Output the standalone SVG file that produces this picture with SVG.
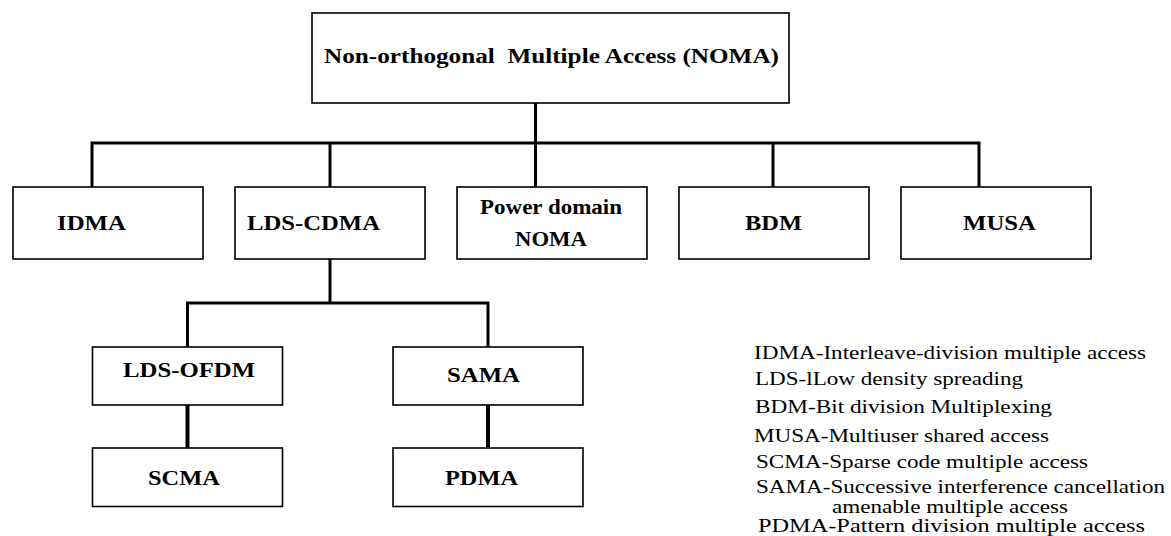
<svg xmlns="http://www.w3.org/2000/svg" width="1171" height="536" viewBox="0 0 1171 536">
<style>
.box{fill:#fff;stroke:#000;stroke-width:1.6}
.lbl{font-family:"Liberation Serif","Times New Roman",serif;font-weight:bold;font-size:22px;fill:#000}
.title{font-family:"Liberation Serif","Times New Roman",serif;font-weight:bold;font-size:21px;fill:#000;white-space:pre}
.leg{font-family:"Liberation Serif","Times New Roman",serif;font-size:18px;fill:#000}
.con{stroke:#000;stroke-width:3;fill:none;stroke-linejoin:miter}
.conb{stroke:#000;stroke-width:4;fill:none}
</style>
<rect width="1171" height="536" fill="#fff"/>
<g id="connectors">
<line class="con" x1="535.5" y1="103" x2="535.5" y2="187"/>
<polyline class="con" points="92,187 92,143 979,143 979,187"/>
<line class="con" x1="330" y1="143" x2="330" y2="187"/>
<line class="con" x1="773" y1="143" x2="773" y2="187"/>
<line class="con" x1="330" y1="259" x2="330" y2="303"/>
<polyline class="con" points="187.5,347 187.5,303 488,303 488,347"/>
<line class="conb" x1="187.5" y1="405" x2="187.5" y2="448"/>
<line class="conb" x1="488" y1="405" x2="488" y2="448"/>
</g>
<g id="noma">
<rect class="box" x="312" y="13" width="477" height="90"/>
<text class="title" x="324" y="63" textLength="455" lengthAdjust="spacingAndGlyphs" xml:space="preserve">Non-orthogonal  Multiple Access (NOMA)</text>
</g>
<g id="idma">
<rect class="box" x="13" y="187" width="190" height="72"/>
<text class="lbl" x="57" y="230" textLength="69" lengthAdjust="spacingAndGlyphs">IDMA</text>
</g>
<g id="lds-cdma">
<rect class="box" x="235" y="187" width="190" height="72"/>
<text class="lbl" x="247" y="230" textLength="133" lengthAdjust="spacingAndGlyphs">LDS-CDMA</text>
</g>
<g id="power-domain">
<rect class="box" x="457" y="187" width="190" height="72"/>
<text class="lbl" x="480" y="214" textLength="142" lengthAdjust="spacingAndGlyphs">Power domain</text>
<text class="lbl" x="515" y="246" textLength="72" lengthAdjust="spacingAndGlyphs">NOMA</text>
</g>
<g id="bdm">
<rect class="box" x="679" y="187" width="190" height="72"/>
<text class="lbl" x="745" y="230" textLength="57" lengthAdjust="spacingAndGlyphs">BDM</text>
</g>
<g id="musa">
<rect class="box" x="901" y="187" width="190" height="72"/>
<text class="lbl" x="963" y="230" textLength="73" lengthAdjust="spacingAndGlyphs">MUSA</text>
</g>
<g id="lds-ofdm">
<rect class="box" x="92.5" y="347" width="190" height="58"/>
<text class="lbl" x="123" y="377" textLength="132" lengthAdjust="spacingAndGlyphs">LDS-OFDM</text>
</g>
<g id="sama">
<rect class="box" x="393" y="347" width="190" height="58"/>
<text class="lbl" x="447" y="382" textLength="73" lengthAdjust="spacingAndGlyphs">SAMA</text>
</g>
<g id="scma">
<rect class="box" x="92.5" y="448" width="190" height="58.5"/>
<text class="lbl" x="148" y="485" textLength="72" lengthAdjust="spacingAndGlyphs">SCMA</text>
</g>
<g id="pdma">
<rect class="box" x="393" y="448" width="190" height="58.5"/>
<text class="lbl" x="445" y="485" textLength="73" lengthAdjust="spacingAndGlyphs">PDMA</text>
</g>
<g id="legend">
<text class="leg" x="754" y="359" textLength="392" lengthAdjust="spacingAndGlyphs">IDMA-Interleave-division multiple access</text>
<text class="leg" x="755" y="385" textLength="268" lengthAdjust="spacingAndGlyphs">LDS-lLow density spreading</text>
<text class="leg" x="755" y="413" textLength="297" lengthAdjust="spacingAndGlyphs">BDM-Bit division Multiplexing</text>
<text class="leg" x="754" y="442" textLength="295" lengthAdjust="spacingAndGlyphs">MUSA-Multiuser shared access</text>
<text class="leg" x="756" y="468" textLength="332" lengthAdjust="spacingAndGlyphs">SCMA-Sparse code multiple access</text>
<text class="leg" x="756" y="493" textLength="409" lengthAdjust="spacingAndGlyphs">SAMA-Successive interference cancellation</text>
<text class="leg" x="832" y="513" textLength="236" lengthAdjust="spacingAndGlyphs">amenable multiple access</text>
<text class="leg" x="758" y="532" textLength="387" lengthAdjust="spacingAndGlyphs">PDMA-Pattern division multiple access</text>
</g>
</svg>
